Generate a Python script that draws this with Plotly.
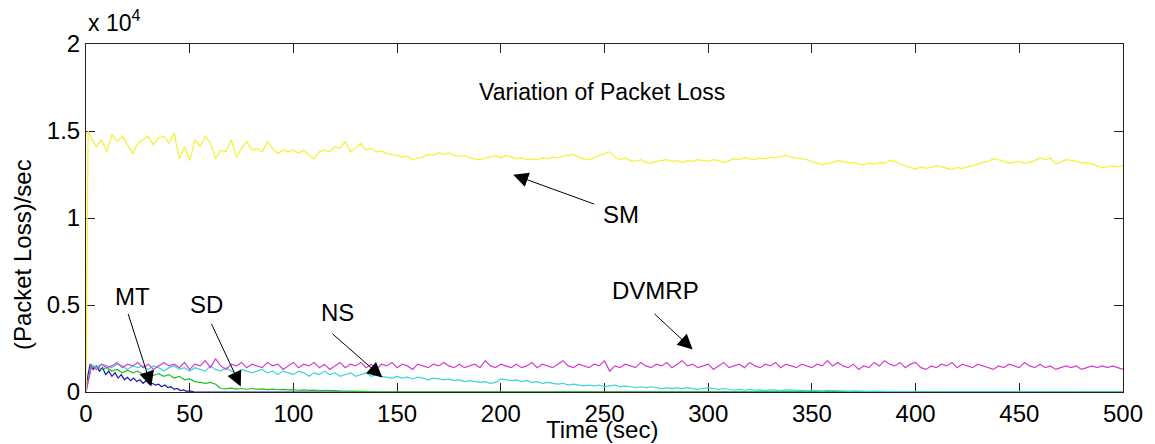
import plotly.graph_objects as go

# ---------------- data (packet loss in units of 10^4 per sec) ----------------
time = [i * 2.5 for i in range(201)]

sm_time = [0, 1] + time[1:]
sm_loss = [
    0, 1.50, 1.46, 1.41, 1.45, 1.38, 1.48, 1.44, 1.47, 1.42, 1.37,
    1.43, 1.45, 1.47, 1.42, 1.46, 1.47, 1.43, 1.49, 1.34, 1.41,
    1.33, 1.45, 1.41, 1.47, 1.43, 1.34, 1.39, 1.38, 1.45, 1.35,
    1.40, 1.44, 1.39, 1.40, 1.38, 1.44, 1.40, 1.37, 1.39, 1.38,
    1.39, 1.37, 1.39, 1.36, 1.34, 1.38, 1.39, 1.38, 1.41, 1.40,
    1.44, 1.38, 1.40, 1.43, 1.39, 1.40, 1.38, 1.385, 1.37, 1.365,
    1.36, 1.35, 1.355, 1.335, 1.345, 1.35, 1.365, 1.36, 1.375, 1.365,
    1.375, 1.36, 1.355, 1.36, 1.345, 1.34, 1.335, 1.345, 1.35, 1.36,
    1.345, 1.36, 1.35, 1.34, 1.345, 1.335, 1.34, 1.335, 1.345, 1.34,
    1.35, 1.345, 1.355, 1.36, 1.365, 1.35, 1.34, 1.335, 1.345, 1.36,
    1.37, 1.38, 1.35, 1.335, 1.345, 1.33, 1.325, 1.335, 1.32, 1.315,
    1.325, 1.33, 1.335, 1.325, 1.33, 1.32, 1.33, 1.325, 1.335, 1.33,
    1.325, 1.335, 1.33, 1.32, 1.33, 1.34, 1.335, 1.345, 1.34, 1.335,
    1.345, 1.34, 1.35, 1.345, 1.355, 1.36, 1.35, 1.345, 1.34, 1.335,
    1.325, 1.315, 1.305, 1.315, 1.32, 1.33, 1.325, 1.315, 1.32, 1.31,
    1.305, 1.315, 1.31, 1.32, 1.315, 1.33, 1.325, 1.31, 1.30, 1.29,
    1.28, 1.295, 1.285, 1.29, 1.30, 1.295, 1.285, 1.28, 1.29, 1.285,
    1.295, 1.30, 1.31, 1.32, 1.325, 1.34, 1.335, 1.325, 1.315, 1.32,
    1.325, 1.315, 1.32, 1.33, 1.345, 1.335, 1.345, 1.31, 1.32, 1.335,
    1.33, 1.325, 1.315, 1.32, 1.31, 1.30, 1.29, 1.295, 1.30, 1.295,
    1.30,
]

dvmrp_loss = [
    0, 0.15, 0.13, 0.16, 0.14, 0.15, 0.17, 0.14, 0.16, 0.15,
    0.17, 0.14, 0.16, 0.13, 0.15, 0.17, 0.15, 0.16, 0.14, 0.17,
    0.13, 0.16, 0.15, 0.18, 0.14, 0.19, 0.15, 0.13, 0.16, 0.15,
    0.17, 0.14, 0.16, 0.15, 0.14, 0.17, 0.15, 0.16, 0.13, 0.15,
    0.17, 0.14, 0.16, 0.15, 0.17, 0.14, 0.16, 0.13, 0.15, 0.17,
    0.14, 0.16, 0.15, 0.17, 0.14, 0.16, 0.13, 0.16, 0.15, 0.17,
    0.14, 0.16, 0.15, 0.13, 0.16, 0.15, 0.14, 0.16, 0.15, 0.17,
    0.15, 0.14, 0.16, 0.14, 0.15, 0.16, 0.14, 0.18, 0.15, 0.14,
    0.16, 0.15, 0.14, 0.16, 0.14, 0.15, 0.17, 0.14, 0.16, 0.15,
    0.14, 0.16, 0.18, 0.15, 0.14, 0.16, 0.15, 0.14, 0.16, 0.15,
    0.18, 0.12, 0.15, 0.14, 0.16, 0.15, 0.14, 0.17, 0.15, 0.14,
    0.16, 0.15, 0.17, 0.14, 0.16, 0.18, 0.15, 0.16, 0.14, 0.15,
    0.16, 0.13, 0.15, 0.17, 0.14, 0.15, 0.16, 0.14, 0.17, 0.15,
    0.14, 0.16, 0.15, 0.17, 0.14, 0.16, 0.15, 0.14, 0.16, 0.15,
    0.14, 0.16, 0.15, 0.18, 0.15, 0.17, 0.15, 0.14, 0.16, 0.13,
    0.15, 0.14, 0.17, 0.15, 0.18, 0.16, 0.15, 0.17, 0.14, 0.16,
    0.17, 0.14, 0.13, 0.15, 0.14, 0.16, 0.15, 0.17, 0.14, 0.16,
    0.15, 0.14, 0.16, 0.15, 0.14, 0.13, 0.15, 0.14, 0.16, 0.15,
    0.14, 0.17, 0.15, 0.14, 0.16, 0.14, 0.15, 0.13, 0.14, 0.15,
    0.14, 0.15, 0.13, 0.14, 0.15, 0.14, 0.15, 0.14, 0.15, 0.14,
    0.13,
]

ns_loss = [
    0, 0.16, 0.14, 0.16, 0.15, 0.14, 0.16, 0.15, 0.13, 0.15,
    0.14, 0.15, 0.13, 0.15, 0.14, 0.12, 0.14, 0.15, 0.13, 0.14,
    0.12, 0.14, 0.13, 0.12, 0.15, 0.13, 0.12, 0.14, 0.12, 0.11,
    0.13, 0.12, 0.11, 0.12, 0.13, 0.11, 0.12, 0.10, 0.12, 0.11,
    0.10, 0.12, 0.11, 0.09, 0.11, 0.10, 0.12, 0.10, 0.11, 0.09,
    0.10, 0.11, 0.09, 0.10, 0.11, 0.09, 0.10, 0.09, 0.085, 0.08,
    0.09, 0.08, 0.085, 0.075, 0.085, 0.08, 0.07, 0.08, 0.075, 0.07,
    0.075, 0.065, 0.07, 0.06, 0.065, 0.06, 0.055, 0.06, 0.05, 0.055,
    0.075, 0.07, 0.065, 0.07, 0.06, 0.065, 0.055, 0.06, 0.05, 0.055,
    0.05, 0.045, 0.05, 0.04, 0.045, 0.04, 0.035, 0.04, 0.035, 0.04,
    0.03, 0.035, 0.04, 0.03, 0.035, 0.03, 0.025, 0.03, 0.025, 0.03,
    0.025, 0.02, 0.025, 0.02, 0.025, 0.02, 0.025, 0.02, 0.015, 0.02,
    0.025, 0.02, 0.015, 0.02, 0.015, 0.01, 0.015, 0.01, 0.015, 0.01,
    0.012, 0.008, 0.012, 0.01, 0.008, 0.012, 0.01, 0.008, 0.01, 0.008,
    0.01, 0.008, 0.006, 0.01, 0.008, 0.006, 0.008, 0.005, 0.007, 0.005,
    0.006, 0.004, 0.005, 0.003, 0.004, 0.003, 0.002, 0.003, 0.002, 0.002,
    0.001, 0.001, 0, 0, 0, 0, 0, 0, 0, 0,
    0, 0, 0, 0, 0, 0, 0, 0, 0, 0,
    0, 0, 0, 0, 0, 0, 0, 0, 0, 0,
    0, 0, 0, 0, 0, 0, 0, 0, 0, 0,
    0,
]

mt_time = [0, 1, 2, 3.5, 5, 6.5, 8, 9.5, 11, 12.5, 14, 15.5, 17, 18.5, 20,
           21.5, 23, 24.5, 26, 27.5, 29, 30.5, 32, 33.5, 35, 36.5, 38, 39.5,
           41, 42.5, 44, 45.5, 47, 48.5, 50, 52, 55, 500]
mt_loss = [0, 0.10, 0.16, 0.13, 0.15, 0.12, 0.14, 0.10, 0.12, 0.09, 0.11,
           0.08, 0.10, 0.07, 0.085, 0.065, 0.08, 0.06, 0.07, 0.05, 0.065,
           0.045, 0.05, 0.04, 0.045, 0.03, 0.04, 0.025, 0.03, 0.015, 0.02,
           0.008, 0.012, 0.004, 0.006, 0.001, 0, 0]

sd_time = [i * 2.5 for i in range(61)] + [500]
sd_loss = [
    0, 0.14, 0.15, 0.13, 0.14, 0.12, 0.13, 0.11, 0.125, 0.11,
    0.12, 0.10, 0.11, 0.095, 0.105, 0.09, 0.10, 0.08, 0.09, 0.07,
    0.075, 0.06, 0.055, 0.05, 0.055, 0.045, 0.02, 0.018, 0.022, 0.017,
    0.02, 0.016, 0.02, 0.015, 0.018, 0.014, 0.016, 0.013, 0.015, 0.012,
    0.014, 0.01, 0.012, 0.009, 0.011, 0.008, 0.01, 0.007, 0.008, 0.006,
    0.006, 0.004, 0.004, 0.003, 0.002, 0.002, 0.001, 0.001, 0, 0,
    0, 0,
]

x_ticks = [0, 50, 100, 150, 200, 250, 300, 350, 400, 450, 500]
y_ticks = [0, 0.5, 1, 1.5, 2]
y_tick_labels = ["0", "0.5", "1", "1.5", "2"]

# ---------------- figure ----------------
FONT = "Liberation Sans, Arial, sans-serif"
fig = go.Figure()

series = [
    (mt_time, mt_loss, "#1a1aa8", "MT"),
    (sd_time, sd_loss, "#22c022", "SD"),
    (time, ns_loss, "#3cd6d6", "NS"),
    (time, dvmrp_loss, "#d23cd2", "DVMRP"),
    (sm_time, sm_loss, "#f2f230", "SM"),
]
for xs, ys, col, name in series:
    fig.add_trace(go.Scatter(x=xs, y=ys, mode="lines", name=name,
                             line=dict(color=col, width=1.2), showlegend=False))

axis_common = dict(showline=True, linecolor="#222", linewidth=1, mirror="ticks",
                   ticks="inside", ticklen=9, tickcolor="#222", showgrid=False,
                   zeroline=False, tickfont=dict(family=FONT, size=24, color="black"),
                   layer="below traces")
fig.update_xaxes(range=[0, 500], tickvals=x_ticks, ticktext=[str(v) for v in x_ticks],
                 **axis_common)
fig.update_yaxes(range=[0, 2], tickvals=y_ticks, ticktext=y_tick_labels, **axis_common)

annotations = [
    dict(x=248.8, y=1.723, xref="x", yref="y", text="Variation of Packet Loss",
         xanchor="center", yanchor="middle",
         showarrow=False, font=dict(family=FONT, size=23, color="black")),
    dict(x=0, y=1.017, xref="paper", yref="paper", xanchor="left", yanchor="bottom",
         text="x 10<sup>4</sup>", showarrow=False,
         font=dict(family=FONT, size=23, color="black")),
    dict(x=-0.0612, y=0.395, xref="paper", yref="paper", text="(Packet Loss)/sec",
         xanchor="center", yanchor="middle",
         textangle=-90, showarrow=False, font=dict(family=FONT, size=24, color="black")),
    dict(x=0.498, y=-0.108, xref="paper", yref="paper", text="Time (sec)",
         xanchor="center", yanchor="middle",
         showarrow=False, font=dict(family=FONT, size=24, color="black")),
]
labels = [
    ("SM", 258.1, 1.019, 206.0, 1.249, 245.7, 1.077),
    ("DVMRP", 274.4, 0.584, 292.5, 0.244, 273.4, 0.457),
    ("NS", 121.4, 0.457, 142.9, 0.083, 118.1, 0.342),
    ("MT", 22.5, 0.549, 31.5, 0.032, 20.1, 0.457),
    ("SD", 58.3, 0.503, 74.6, 0.032, 60.2, 0.399),
]
for text, tx, ty, hx, hy, ax, ay in labels:
    annotations.append(dict(x=tx, y=ty, xref="x", yref="y", text=text, showarrow=False,
                            xanchor="center", yanchor="middle",
                            font=dict(family=FONT, size=24, color="black")))
    annotations.append(dict(x=hx, y=hy, xref="x", yref="y", ax=ax, ay=ay,
                            axref="x", ayref="y", text="", showarrow=True,
                            arrowhead=2, arrowsize=3, arrowwidth=1,
                            arrowcolor="black", standoff=0, startstandoff=0))

fig.update_layout(width=1155, height=444, margin=dict(l=86, r=23, t=44, b=52),
                  paper_bgcolor="white", plot_bgcolor="white",
                  annotations=annotations, font=dict(family=FONT))

fig.write_html("out.html", config={"displayModeBar": False},
               post_script="document.body.style.margin='0';")
